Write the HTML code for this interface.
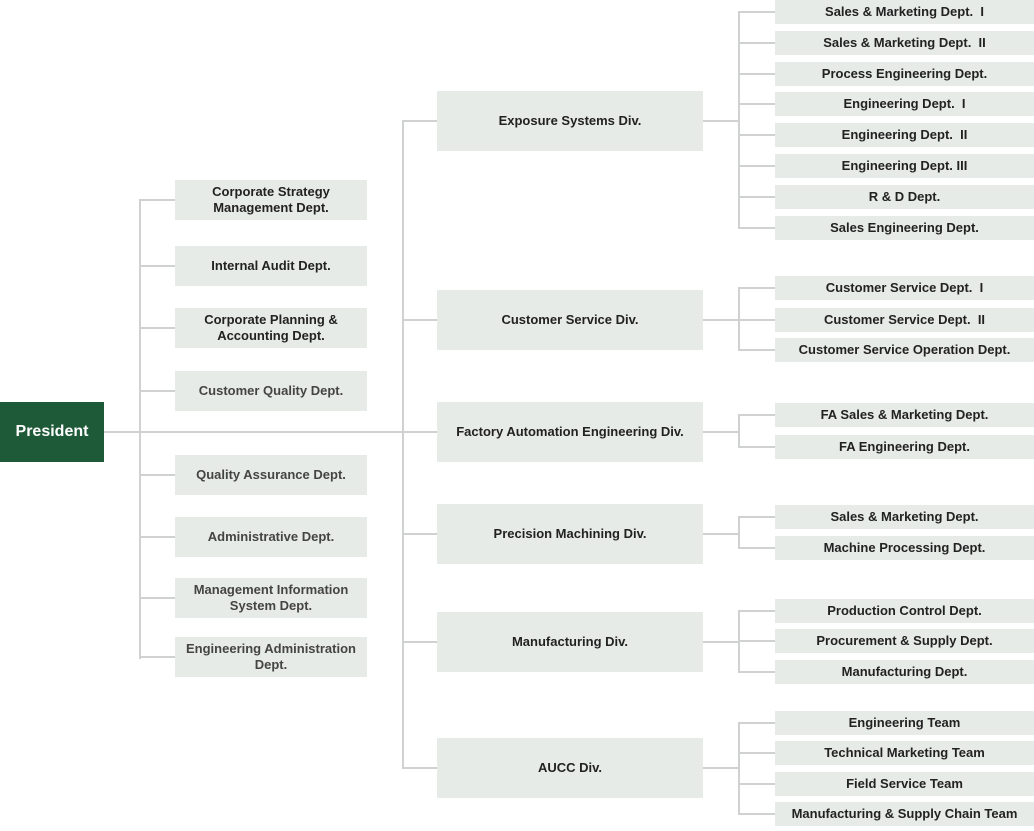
<!DOCTYPE html>
<html><head><meta charset="utf-8"><style>
body{margin:0;width:1034px;height:831px;position:relative;background:#fff;font-family:"Liberation Sans",sans-serif;overflow:hidden}
.b{position:absolute;background:#e7ebe8;display:flex;align-items:center;justify-content:center;text-align:center;font-size:13px;font-weight:bold;color:#222;line-height:16px}
.l{position:absolute;background:#cfd2d0}
.g{color:#444}
</style></head><body>
<div class="b" style="left:0;top:402px;width:104px;height:60px;background:#1f5a38;color:#fff;font-size:16px">President</div>
<div class="l" style="left:104px;top:431px;width:335px;height:2px"></div>
<div class="l" style="left:139px;top:199px;width:2px;height:460px"></div>
<div class="l" style="left:402px;top:122px;width:2px;height:647px"></div>
<script>
var L=[[180,"Corporate Strategy<br>Management Dept.",0],[246,"Internal Audit Dept.",0],[308,"Corporate Planning &amp;<br>Accounting Dept.",0],[371,"Customer Quality Dept.",1],[455,"Quality Assurance Dept.",1],[517,"Administrative Dept.",1],[578,"Management Information<br>System Dept.",1],[637,"Engineering Administration<br>Dept.",1]];
var h="";
L.forEach(function(a){h+='<div class="l" style="left:139px;top:'+(a[0]+19)+'px;width:36px;height:2px"></div><div class="b'+(a[2]?' g':'')+'" style="left:175px;top:'+a[0]+'px;width:192px;height:40px">'+a[1]+'</div>';});
var D=[[91,"Exposure Systems Div.",[12,43,74,104,135,166,197,228],["Sales &amp; Marketing Dept.&nbsp; I","Sales &amp; Marketing Dept.&nbsp; II","Process Engineering Dept.","Engineering Dept.&nbsp; I","Engineering Dept.&nbsp; II","Engineering Dept. III","R &amp; D Dept.","Sales Engineering Dept."]],
[290,"Customer Service Div.",[288,320,350],["Customer Service Dept.&nbsp; I","Customer Service Dept.&nbsp; II","Customer Service Operation Dept."]],
[402,"Factory Automation Engineering Div.",[415,447],["FA Sales &amp; Marketing Dept.","FA Engineering Dept."]],
[504,"Precision Machining Div.",[517,548],["Sales &amp; Marketing Dept.","Machine Processing Dept."]],
[612,"Manufacturing Div.",[611,641,672],["Production Control Dept.","Procurement &amp; Supply Dept.","Manufacturing Dept."]],
[738,"AUCC Div.",[723,753,784,814],["Engineering Team","Technical Marketing Team","Field Service Team","Manufacturing &amp; Supply Chain Team"]]];
D.forEach(function(d){var c=d[0]+30;
h+='<div class="l" style="left:402px;top:'+(c-1)+'px;width:35px;height:2px"></div>';
h+='<div class="b" style="left:437px;top:'+d[0]+'px;width:266px;height:60px">'+d[1]+'</div>';
h+='<div class="l" style="left:703px;top:'+(c-1)+'px;width:37px;height:2px"></div>';
var s=d[2];h+='<div class="l" style="left:738px;top:'+(s[0]-1)+'px;width:2px;height:'+(s[s.length-1]-s[0]+2)+'px"></div>';
s.forEach(function(y,i){h+='<div class="l" style="left:738px;top:'+(y-1)+'px;width:37px;height:2px"></div><div class="b" style="left:775px;top:'+(y-12)+'px;width:259px;height:24px">'+d[3][i]+'</div>';});});
document.write(h);
</script>
</body></html>
